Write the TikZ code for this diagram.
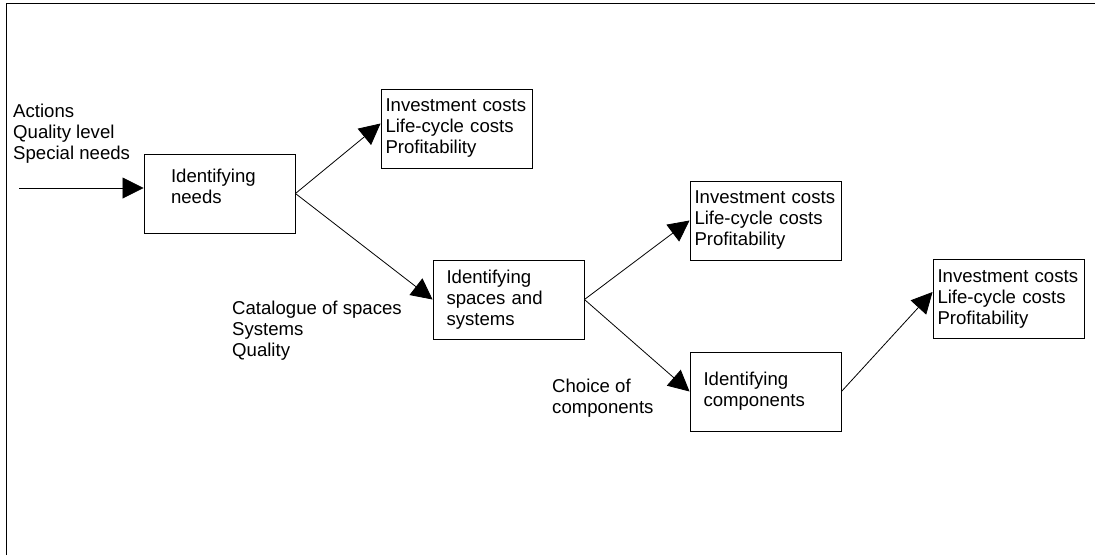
\documentclass[tikz,border=0pt]{standalone}
\usepackage{fontspec}
\setmainfont{Liberation Sans}
\usetikzlibrary{arrows.meta,positioning}

\tikzset{
	box/.style={draw,line width=0.9pt,minimum height=79pt,align=left,font=\fontsize{18.6}{21}\selectfont},
	costbox/.style={box,inner xsep=4.5pt,text width=142pt},
	stepbox/.style={box,inner xsep=13.5pt,text width=124pt},
	lbl/.style={anchor=base west,inner sep=0pt,align=left,font=\fontsize{18.6}{21}\selectfont},
	flow/.style={line width=0.8pt,-{Triangle[length=21pt,width=21pt]}}
}

\begin{document}
\begin{tikzpicture}[x=1pt,y=-1pt]
				\useasboundingbox (0,0) rectangle (1095,555);
				\draw[line width=1.5pt] (6.5,555) -- (6.5,3.5) -- (1095,3.5);

				\node[box,inner xsep=27pt,text width=97pt,text depth=36pt] (needs) at (219.5,193.5) {Identifying\\needs};
				\node[stepbox] (spaces) at (508.5,299.5) {Identifying\\spaces and\\systems};
				\node[stepbox] (comps) at (765.5,391.5) {Identifying\\components};
				\node[costbox] (ic1) at (456.5,128.5) {Investment costs\\Life-cycle costs\\Profitability};
				\node[costbox] (ic2) at (765.5,220.5) {Investment costs\\Life-cycle costs\\Profitability};
				\node[costbox] (ic3) at (1008.5,299) {Investment costs\\Life-cycle costs\\Profitability};

				\node[lbl] (needsin) at (13,159) {Actions\\Quality level\\Special needs};
				\node[lbl] (spacesin) at (232,356) {Catalogue of spaces\\Systems\\Quality};
				\node[lbl] (compsin) at (552,413) {Choice of\\components};

				\coordinate (start) at (19,188);
				\draw[flow] (start) -- (start -| needs.west);
				\draw[flow] (needs.east) -- ([yshift=5pt]ic1.west);
				\draw[flow] (needs.east) -- (spaces.west);
				\draw[flow] (spaces.east) -- (ic2.west);
				\draw[flow] (spaces.east) -- (comps.west);
				\draw[flow] (comps.east) -- ([yshift=7pt]ic3.west);
\end{tikzpicture}
\end{document}
